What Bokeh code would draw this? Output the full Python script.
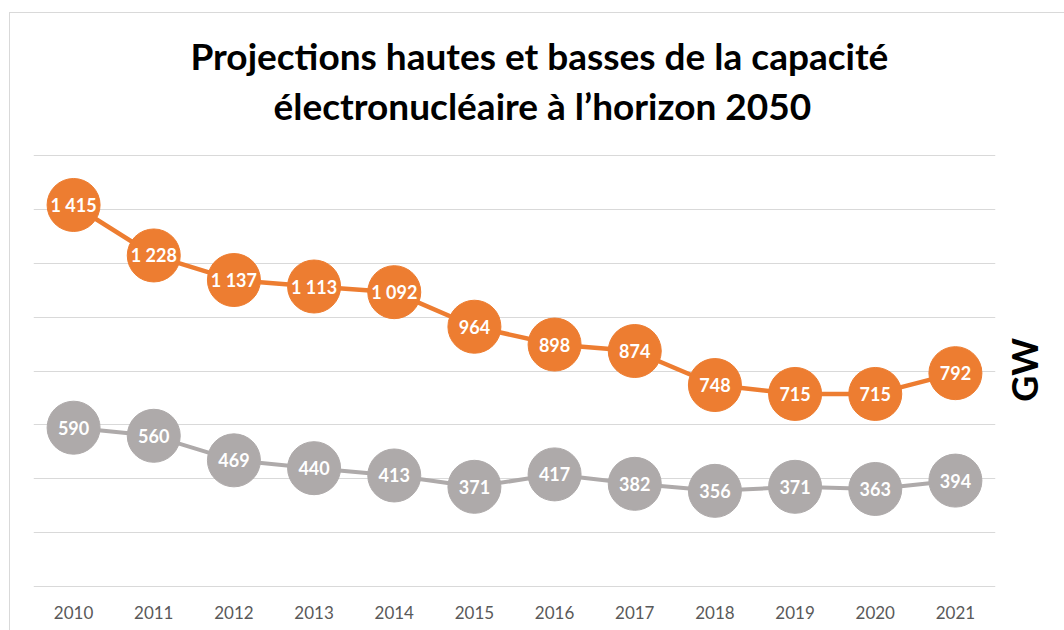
import math
from bokeh.plotting import figure
from bokeh.models import FactorRange, FixedTicker, Title, LinearAxis, ColumnDataSource, Range1d
from bokeh.core.properties import value
from bokeh.embed import file_html
from bokeh.resources import INLINE

years = ["2010", "2011", "2012", "2013", "2014", "2015", "2016", "2017", "2018", "2019", "2020", "2021"]
high = [1415, 1228, 1137, 1113, 1092, 964, 898, 874, 748, 715, 715, 792]
low = [590, 560, 469, 440, 413, 371, 417, 382, 356, 371, 363, 394]
y_ticks = [0, 200, 400, 600, 800, 1000, 1200, 1400, 1600]
title_lines = ["Projections hautes et basses de la capacité", "électronucléaire à l’horizon 2050"]
unit_label = "GW"

ORANGE = "#ED7D31"
GREY = "#AEAAAA"

def fmt(v):
    return f"{v:,}".replace(",", " ")

p = figure(x_range=FactorRange(*years, range_padding=0), y_range=Range1d(-2, 1602),
           frame_width=962, frame_height=433,
           output_backend="svg", toolbar_location=None)
p.min_border_left = 33
p.min_border_right = 69
p.min_border_top = 154
p.min_border_bottom = 43
p.outline_line_color = None
p.background_fill_color = "white"
p.border_fill_color = None
p.styles = {
    "background-color": "white",
    "background-image": "linear-gradient(#d9d9d9, #d9d9d9), linear-gradient(#d9d9d9, #d9d9d9)",
    "background-size": "1px 100%, 100% 1px",
    "background-position": "9px 12px, 9px 12px",
    "background-repeat": "no-repeat",
}

p.yaxis.visible = False
p.ygrid.ticker = FixedTicker(ticks=y_ticks)
p.ygrid.grid_line_color = "#d9d9d9"
p.ygrid.grid_line_width = 1
p.xgrid.grid_line_color = None

p.xaxis.axis_line_color = None
p.xaxis.major_tick_line_color = None
p.xaxis.minor_tick_line_color = None
p.xaxis.major_label_standoff = 12
p.xaxis.major_label_text_font = "Lato"
p.xaxis.major_label_text_font_size = "17px"
p.xaxis.major_label_text_color = "#595959"

src_h = ColumnDataSource(dict(x=years, y=high, t=[fmt(v) for v in high]))
src_l = ColumnDataSource(dict(x=years, y=low, t=[fmt(v) for v in low]))

for src, col, lw in ((src_l, GREY, 4), (src_h, ORANGE, 4.5)):
    p.line("x", "y", source=src, line_color=col, line_width=lw)
    p.scatter("x", "y", source=src, size=53, fill_color=col, line_color=col, line_width=1)
    p.text("x", "y", text="t", source=src, text_color="white",
           text_font=value("Lato"), text_font_style="bold", text_font_size="18px",
           text_align="center", text_baseline="middle")

# blank band between the plot area and the title (nearest the frame)
p.add_layout(Title(text=" ", align="left", standoff=23, text_font="Lato",
                   text_font_size="2px", text_color="white"), "above")

# title lines (added nearest-first)
p.add_layout(Title(text=title_lines[1], align="left", offset=240, standoff=0,
                   text_font="Lato", text_font_style="bold", text_font_size="37px",
                   text_color="black"), "above")
p.add_layout(Title(text=title_lines[0], align="left", offset=157, standoff=6,
                   text_font="Lato", text_font_style="bold", text_font_size="37px",
                   text_color="black"), "above")

# unit label on the right, reading upwards
gw_pos = [686]
ax = LinearAxis(ticker=FixedTicker(ticks=gw_pos),
                major_label_overrides={gw_pos[0]: unit_label},
                major_label_orientation=math.pi / 2,
                axis_line_color=None, major_tick_line_color=None,
                minor_tick_line_color=None, major_tick_in=0, major_tick_out=0,
                major_label_standoff=29,
                major_label_text_font="Lato", major_label_text_font_style="bold",
                major_label_text_font_size="36px", major_label_text_color="black")
p.add_layout(ax, "right")

open("out.html", "w").write(file_html(p, INLINE))
